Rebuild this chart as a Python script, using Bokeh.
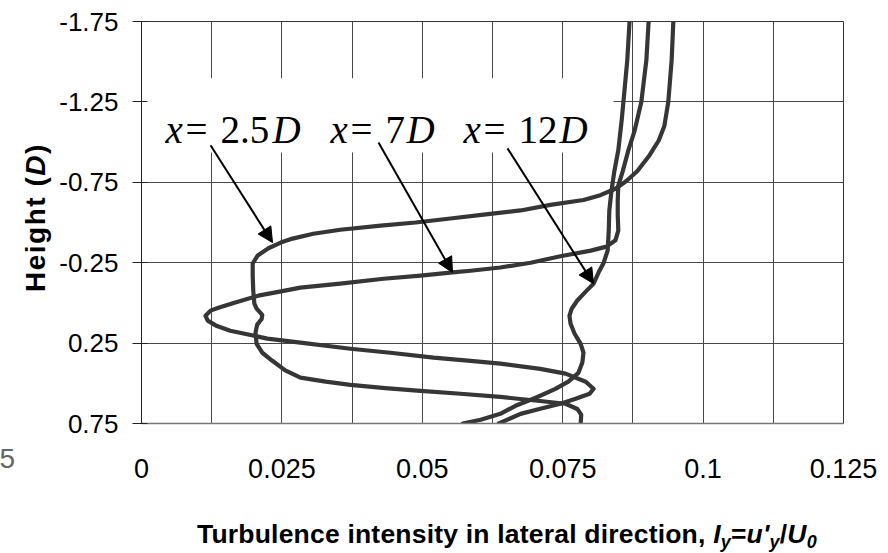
from bokeh.embed import file_html
from bokeh.layouts import column, row
from bokeh.models import Arrow, BoxAnnotation, Div, FixedTicker, Label, NormalHead, Range1d
from bokeh.plotting import figure
from bokeh.resources import INLINE

# Lateral turbulence intensity profiles, read against height (in D)
height_2_5D = [-1.75, -1.51, -1.25, -1.10, -1.01, -0.92, -0.82, -0.76, -0.71, -0.67,
               -0.64, -0.61, -0.575, -0.55, -0.525, -0.50, -0.48, -0.455, -0.43, -0.40,
               -0.375, -0.34, -0.295, -0.245, -0.17, -0.075, 0.005, 0.035, 0.075, 0.10,
               0.135, 0.185, 0.255, 0.31, 0.36, 0.42, 0.465, 0.49, 0.51, 0.53,
               0.545, 0.565, 0.585, 0.61, 0.627, 0.66, 0.695, 0.75]
iy_2_5D = [0.0947, 0.0944, 0.0938, 0.0931, 0.0921, 0.0905, 0.0883, 0.0864, 0.0844, 0.0817,
           0.0787, 0.0728, 0.0675, 0.0613, 0.0550, 0.0488, 0.0426, 0.0354, 0.0306, 0.0269,
           0.0248, 0.0226, 0.0207, 0.0198, 0.0198, 0.0199, 0.0201, 0.0205, 0.0215, 0.0214,
           0.0206, 0.0203, 0.0205, 0.0215, 0.0233, 0.0256, 0.0283, 0.0328, 0.0372, 0.0434,
           0.0491, 0.0568, 0.0639, 0.0710, 0.0755, 0.0776, 0.0783, 0.0782]

height_7D = [-1.75, -1.51, -1.25, -1.07, -0.95, -0.82, -0.73, -0.64, -0.545, -0.45,
             -0.39, -0.35, -0.325, -0.29, -0.25, -0.22, -0.20, -0.19, -0.17, -0.15,
             -0.12, -0.095, -0.075, -0.045, 0.0, 0.03, 0.048, 0.08, 0.11, 0.14,
             0.173, 0.222, 0.247, 0.285, 0.31, 0.34, 0.36, 0.378, 0.41, 0.44,
             0.49, 0.534, 0.565, 0.596, 0.627, 0.658, 0.69, 0.75]
iy_7D = [0.0903, 0.0899, 0.0890, 0.0878, 0.0867, 0.0857, 0.0849, 0.0848, 0.0848, 0.0849,
         0.0844, 0.0828, 0.0800, 0.0746, 0.0693, 0.0639, 0.0586, 0.0554, 0.0497, 0.0431,
         0.0354, 0.0283, 0.0253, 0.0208, 0.0164, 0.0137, 0.0123, 0.0114, 0.0118, 0.0132,
         0.0158, 0.0224, 0.0283, 0.0372, 0.0443, 0.0520, 0.0586, 0.0639, 0.0710, 0.0755,
         0.0791, 0.0805, 0.0798, 0.0773, 0.0746, 0.0710, 0.0675, 0.0636]

height_12D = [-1.75, -1.51, -1.32, -1.135, -0.95, -0.82, -0.70, -0.575, -0.45, -0.325,
              -0.25, -0.19, -0.12, -0.07, -0.015, 0.036, 0.08, 0.13, 0.19, 0.255,
              0.31, 0.37, 0.435, 0.49, 0.535, 0.59, 0.64, 0.69, 0.727, 0.75]
iy_12D = [0.0869, 0.0865, 0.0860, 0.0855, 0.0849, 0.0842, 0.0837, 0.0833, 0.0832, 0.0830,
          0.0823, 0.0814, 0.0805, 0.0791, 0.0776, 0.0766, 0.0762, 0.0764, 0.0771, 0.0782,
          0.0787, 0.0785, 0.0778, 0.0760, 0.0737, 0.0702, 0.0666, 0.0639, 0.0604, 0.0572]

x_ticks = [0, 0.025, 0.05, 0.075, 0.1, 0.125]
x_tick_labels = ["0", "0.025", "0.05", "0.075", "0.1", "0.125"]
y_ticks = [-1.75, -1.25, -0.75, -0.25, 0.25, 0.75]
y_tick_labels = ["-1.75", "-1.25", "-0.75", "-0.25", "0.25", "0.75"]
x_grid = [0, 0.0125, 0.025, 0.0375, 0.05, 0.0625, 0.075, 0.0875, 0.1, 0.1125, 0.125]
y_grid = [-1.25, -0.75, -0.25, 0.25]

# station callouts: number, x of "x", "=", number, "D"; arrow tail and head
stations = ["2.5", "7", "12"]
label_x = [(0.00427, 0.00784, 0.01407, 0.02333),
           (0.03365, 0.03722, 0.04345, 0.04719),
           (0.05734, 0.06090, 0.06713, 0.07443)]
label_baseline = -1.076
tail_x = [0.01229, 0.0422, 0.06517]
tail_y = [-0.980, -0.998, -0.961]
head_x = [0.02333, 0.05538, 0.08048]
head_y = [-0.375, -0.189, -0.120]

SANS = "Liberation Sans"
SERIF = "Liberation Serif"
INK = "#363636"

LEFT_W = 54          # strip holding the vertical title
PLOT_H = 500         # chart height; the horizontal title sits below it

p = figure(width=888 - LEFT_W, height=PLOT_H,
           x_range=Range1d(0, 0.125), y_range=Range1d(0.75, -1.75),
           output_backend="svg", toolbar_location=None,
           min_border_left=141 - LEFT_W, min_border_right=45,
           min_border_top=21, min_border_bottom=PLOT_H - 423)
p.background_fill_color = "white"
p.border_fill_color = "white"
p.outline_line_color = "#333333"
p.outline_line_width = 1

# grid
p.xgrid.ticker = FixedTicker(ticks=x_grid)
p.ygrid.ticker = FixedTicker(ticks=y_grid)
for g in (p.xgrid[0], p.ygrid[0]):
    g.grid_line_color = "#484848"
    g.grid_line_width = 1

# x axis: labels only, set well below the frame
xa = p.xaxis[0]
xa.ticker = FixedTicker(ticks=x_ticks)
xa.major_label_overrides = dict(zip(x_ticks, x_tick_labels))
xa.major_tick_out = 0
xa.major_tick_in = 0
xa.minor_tick_out = 0
xa.minor_tick_in = 0
xa.major_label_standoff = 35
xa.axis_line_color = "#777777"
xa.axis_line_width = 1.5
xa.major_label_text_font = SANS
xa.major_label_text_font_size = "27px"
xa.major_label_text_color = "black"

ya = p.yaxis[0]
ya.ticker = FixedTicker(ticks=y_ticks)
ya.major_label_overrides = dict(zip(y_ticks, y_tick_labels))
ya.major_tick_out = 9
ya.major_tick_in = 6
ya.minor_tick_out = 0
ya.minor_tick_in = 0
ya.major_label_standoff = 14
ya.axis_line_color = "#222222"
ya.major_tick_line_color = "#222222"
ya.major_label_text_font = SANS
ya.major_label_text_font_size = "26px"
ya.major_label_text_color = "black"

# white panel behind the station labels
p.add_layout(BoxAnnotation(left=0.0002, right=0.08405, top=-1.397, bottom=-0.936,
                           fill_color="white", fill_alpha=1.0, line_color=None,
                           level="glyph"))

for xs, ys in ((iy_2_5D, height_2_5D), (iy_7D, height_7D), (iy_12D, height_12D)):
    p.line(xs, ys, line_width=4.2, line_color=INK, line_join="round", line_cap="round")

for i in range(len(stations)):
    p.add_layout(Arrow(end=NormalHead(size=15, fill_color="black", line_color="black"),
                       x_start=tail_x[i], y_start=tail_y[i],
                       x_end=head_x[i], y_end=head_y[i],
                       line_width=2, line_color="black"))


def add_text(text, x, y, style="normal"):
    p.add_layout(Label(x=x, y=y, text=text, text_font=SERIF, text_font_size="39px",
                       text_font_style=style, text_align="left",
                       text_baseline="alphabetic", text_color="black"))


for num, (xx, xe, xn, xd) in zip(stations, label_x):
    add_text("x", xx, label_baseline, "italic")
    add_text("=", xe, label_baseline)
    add_text(num, xn, label_baseline)
    add_text("D", xd, label_baseline, "italic")

# vertical title, reading upwards, plus the stray digit at the left edge
y_title = Div(width=LEFT_W, height=553, margin=(0, 0, 0, 0), text=(
    '<div style="position:relative;width:54px;height:553px;">'
    '<div style="position:absolute;left:16px;top:292px;transform:rotate(-90deg);'
    'transform-origin:0 0;white-space:nowrap;font-family:\'Liberation Sans\';'
    'font-weight:bold;font-size:28px;letter-spacing:1.5px;color:black;">'
    'Height (<i>D</i>)</div>'
    '<div style="position:absolute;right:39px;top:439px;font-family:\'Liberation Sans\';'
    'font-size:28px;color:#666666;">5</div>'
    '</div>'))

# horizontal title with subscripted symbols
sub = '<span style="font-size:18px;position:relative;top:5px;">{}</span>'
x_title = Div(width=888 - LEFT_W, height=553 - PLOT_H, margin=(0, 0, 0, 0), text=(
    '<div style="position:relative;width:834px;height:53px;">'
    '<div style="position:absolute;left:143px;top:16px;white-space:nowrap;'
    'font-family:\'Liberation Sans\';font-weight:bold;font-size:26.5px;'
    'letter-spacing:0.2px;color:black;">'
    'Turbulence intensity in lateral direction, '
    '<i>I</i>' + sub.format('<i>y</i>') + '=<i>u\'</i>' + sub.format('<i>y</i>') +
    '/<i>U</i>' + sub.format('<i>0</i>') +
    '</div></div>'))

page = row(y_title, column(p, x_title, spacing=0), spacing=0)

open("out.html", "w").write(file_html(page, INLINE))
